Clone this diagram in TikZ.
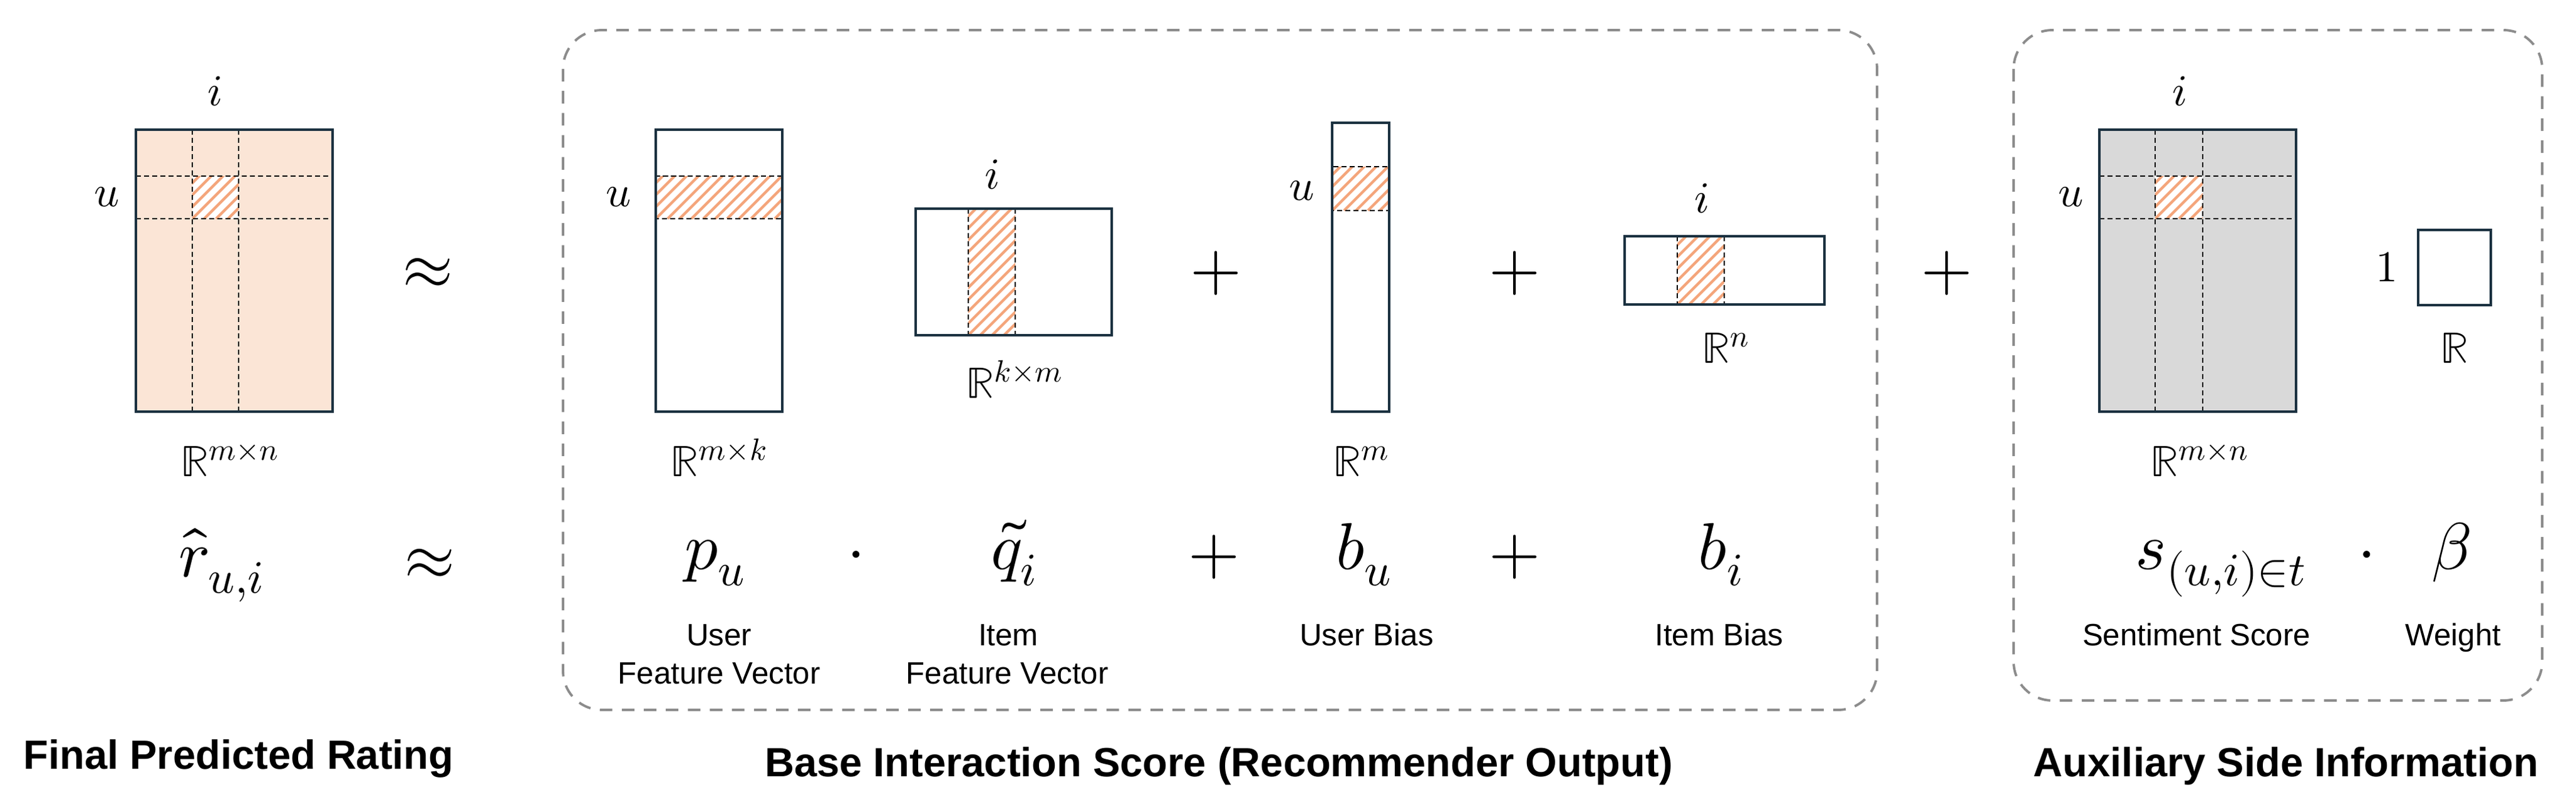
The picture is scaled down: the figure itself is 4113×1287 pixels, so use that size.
\documentclass[tikz,border=0pt]{standalone}
\usepackage{fontspec}
\usepackage{unicode-math}
\setmathfont{Latin Modern Math}
\newfontfamily\lsans{Liberation Sans}
\definecolor{navy}{HTML}{1B3140}
\definecolor{peach}{HTML}{FBE5D6}
\definecolor{hatchor}{HTML}{F4A57B}
\definecolor{boxgray}{HTML}{8C8C8C}
\definecolor{matgray}{HTML}{D9D9D9}

% x1 y1 x2 y2 of a hatched cell
\newcommand{\hatchcell}[4]{%
	\begin{scope}
		\clip (#1,#2) rectangle (#3,#4);
		\fill[white] (#1,#2) rectangle (#3,#4);
		\foreach \k in {-266,-247,...,266}
			\draw[hatch] (#1+\k,#4) -- ++(400,-400);
	\end{scope}}

\begin{document}
\begin{tikzpicture}[x=0.01cm, y=-0.01cm,
		mat/.style={draw=navy, line width=1.15pt},
		cutline/.style={black, line width=0.7pt, dash pattern=on 2.3pt off 1.4pt},
		hatch/.style={hatchor, line width=1.2pt},
		group/.style={boxgray, line width=1.1pt, dash pattern=on 5.7pt off 4.3pt, rounded corners=0.62cm},
		idx/.style={font=\fontsize{20}{23}\selectfont, anchor=base, inner sep=0},
		big/.style={font=\fontsize{30}{34}\selectfont, anchor=base, inner sep=0},
		op/.style={font=\fontsize{30}{34}\selectfont, inner sep=0},
		sublbl/.style={font=\lsans\fontsize{14}{17}\selectfont, anchor=base, inner sep=0},
		grouplbl/.style={font=\lsans\bfseries\fontsize{18.5}{22}\selectfont, anchor=base, inner sep=0}]
		\useasboundingbox (0,0) rectangle (4113,1287);
		
		% final rating matrix
		\fill[peach] (217,207) rectangle (531,657);
		\hatchcell{307}{281}{381}{349}
		\draw[cutline] (307,207) -- (307,657);
		\draw[cutline] (381,207) -- (381,657);
		\draw[cutline] (217,281) -- (531,281);
		\draw[cutline] (217,349) -- (531,349);
		\draw[mat] (217,207) rectangle (531,657);
		\node[idx] (r-i) at (344,168) {$i$};
		\node[idx] (r-u) at (171,329) {$u$};
		\node[idx] (r-dim) at (367,760) {$\mathbb{R}^{m\times n}$};
		\node[op] (approx1) at (683,436) {$\approx$};
		
		% base interaction score
		\draw[group] (899,48) rectangle (2997,1133);
		\hatchcell{1047}{281}{1249}{349}
		\draw[cutline] (1047,281) rectangle (1249,349);
		\draw[mat] (1047,207) rectangle (1249,657);
		\node[idx] (p-u) at (988,329) {$u$};
		\node[idx] (p-dim) at (1148,760) {$\mathbb{R}^{m\times k}$};
		
		\hatchcell{1546}{333}{1621}{535}
		\draw[cutline] (1546,333) -- (1546,535);
		\draw[cutline] (1621,333) -- (1621,535);
		\draw[mat] (1462,333) rectangle (1775,535);
		\node[idx] (q-i) at (1585,301) {$i$};
		\node[idx] (q-dim) at (1620,635) {$\mathbb{R}^{k\times m}$};
		\node[op] (plus1) at (1942,436) {$+$};
		
		\hatchcell{2127}{266}{2218}{336}
		\draw[cutline] (2127,266) rectangle (2218,336);
		\draw[mat] (2127,196) rectangle (2218,657);
		\node[idx] (bu-u) at (2079,319) {$u$};
		\node[idx] (bu-dim) at (2173,760) {$\mathbb{R}^{m}$};
		\node[op] (plus2) at (2418,436) {$+$};
		
		\hatchcell{2678}{377}{2753}{486}
		\draw[cutline] (2678,377) -- (2678,486);
		\draw[cutline] (2753,377) -- (2753,486);
		\draw[mat] (2594,377) rectangle (2913,486);
		\node[idx] (bi-i) at (2718,339) {$i$};
		\node[idx] (bi-dim) at (2756,579) {$\mathbb{R}^{n}$};
		\node[op] (plus3) at (3108,436) {$+$};
		
		% auxiliary side information
		\draw[group] (3215,48) rectangle (4059,1118);
		\fill[matgray] (3352,207) rectangle (3666,657);
		\hatchcell{3441}{281}{3517}{349}
		\draw[cutline] (3441,207) -- (3441,657);
		\draw[cutline] (3517,207) -- (3517,657);
		\draw[cutline] (3352,281) -- (3666,281);
		\draw[cutline] (3352,349) -- (3666,349);
		\draw[mat] (3352,207) rectangle (3666,657);
		\node[idx] (s-i) at (3481,168) {$i$};
		\node[idx] (s-u) at (3307,329) {$u$};
		\node[idx] (s-dim) at (3512,760) {$\mathbb{R}^{m\times n}$};
		
		\draw[mat] (3861,367) rectangle (3977,487);
		\node[idx] (w-one) at (3811,449) {$1$};
		\node[idx] (w-dim) at (3919,579) {$\mathbb{R}$};
		
		% formula row
		\node[big] (rhat) at (354,920) {$\hat{r}_{u,i}$};
		\node[op] (approx2) at (686,900) {$\approx$};
		\node[big] (pu) at (1142,908) {$p_u$};
		\node[op] (dot1) at (1367,895) {$\cdot$};
		\node[big] (qi) at (1620,908) {$\tilde{q}_i$};
		\node[op] (plus4) at (1939,889) {$+$};
		\node[big] (bu) at (2178,908) {$b_u$};
		\node[op] (plus5) at (2418,889) {$+$};
		\node[big] (bi) at (2748,908) {$b_i$};
		\node[big] (sui) at (3546,908) {$s_{(u,i)\in t}$};
		\node[op] (dot2) at (3779,895) {$\cdot$};
		\node[big] (beta) at (3914,908) {$\beta$};
		
		\node[sublbl] (pu-a) at (1148,1030) {User};
		\node[sublbl] (pu-b) at (1148,1091) {Feature Vector};
		\node[sublbl] (qi-a) at (1610,1030) {Item};
		\node[sublbl] (qi-b) at (1608,1091) {Feature Vector};
		\node[sublbl] (bu-lbl) at (2182,1030) {User Bias};
		\node[sublbl] (bi-lbl) at (2745,1030) {Item Bias};
		\node[sublbl] (sui-lbl) at (3507,1030) {Sentiment Score};
		\node[sublbl] (beta-lbl) at (3917,1030) {Weight};
		
		\node[grouplbl] (final) at (381,1227) {Final Predicted Rating};
		\node[grouplbl] (base) at (1946,1239) {Base Interaction Score (Recommender Output)};
		\node[grouplbl] (aux) at (3650,1239) {Auxiliary Side Information};
		
\end{tikzpicture}
\end{document}
